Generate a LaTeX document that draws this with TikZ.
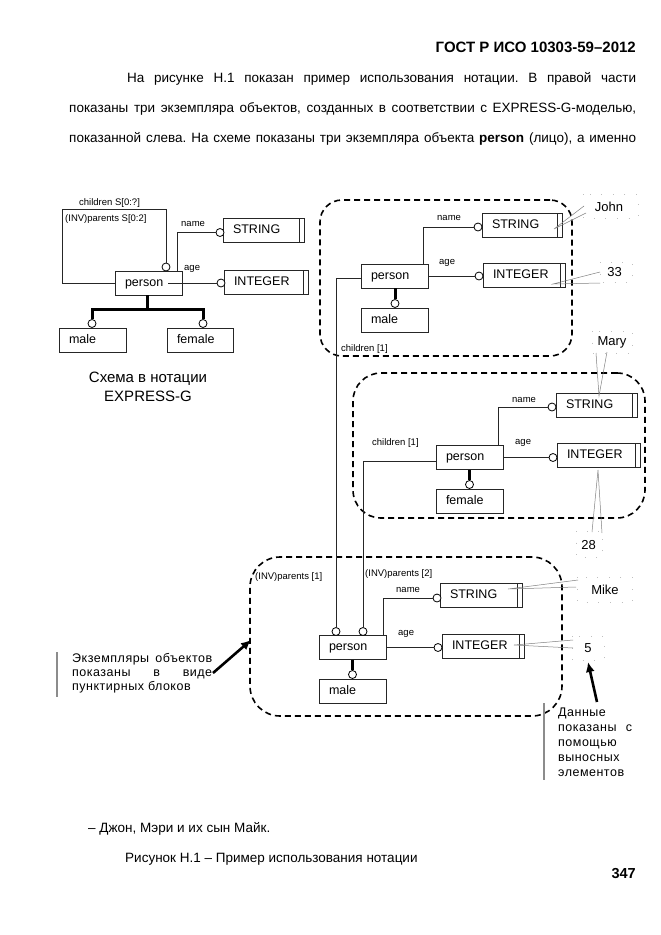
\documentclass[tikz,border=0pt]{standalone}
\usepackage{fontspec}
\setmainfont{Liberation Sans}
\newfontfamily\spfont[LetterSpace=4]{Liberation Sans}
\usetikzlibrary{arrows.meta}
\frenchspacing
\newcommand\bxf{\fontsize{12.5}{14}\selectfont}
\newcommand\lbf{\fontsize{9.5}{11}\selectfont}
\newcommand\vlf{\fontsize{13}{15}\selectfont}
\newcommand\bdf{\fontsize{13.5}{16}\selectfont}
\newcommand\hdf{\fontsize{15}{18}\selectfont\bfseries}
\newcommand\cpf{\fontsize{15}{19}\selectfont}
\newcommand\clf{\spfont\fontsize{12.5}{14}\selectfont}
\newcommand\crf{\spfont\fontsize{12.5}{15}\selectfont}
\begin{document}
\begin{tikzpicture}[x=1pt,y=-1pt,
 ebox/.style={draw=black!85, line width=0.8pt, fill=white, minimum height=24pt, inner xsep=10pt, inner ysep=0pt, text height=9pt, text depth=2.6pt, align=left, font=\bxf},
 dbl/.style={path picture={\draw[black!85, line width=0.8pt] ([xshift=-4.5pt]path picture bounding box.north east) -- ([xshift=-4.5pt]path picture bounding box.south east);}},
 circ/.style={circle, draw=black, fill=white, line width=0.8pt, minimum size=8pt, inner sep=0pt},
 lnk/.style={draw=black!85, line width=0.8pt},
 subln/.style={draw=black, line width=3pt},
 lbl/.style={font=\lbf, inner sep=0pt, anchor=west},
 inst/.style={draw=black, line width=1.6pt, dash pattern=on 6pt off 4pt, inner sep=0pt},
 lead/.style={draw=black!50, line width=0.5pt},
 dotbox/.style={draw=black!25, line width=0.6pt, dash pattern=on 0.6pt off 11pt},
 val/.style={font=\vlf, inner sep=0pt},
 bigarrow/.style={draw=black, line width=2.6pt, -{Latex[length=10pt,width=9pt]}},
 gbar/.style={draw=black!45, line width=2pt},
 ptxt/.style={inner sep=0pt, anchor=base west, font=\bdf}
]
\fill[white] (0,0) rectangle (661,935);
\useasboundingbox (0,0) rectangle (661,935);

% page text
\node[inner sep=0pt, anchor=base east, font=\hdf] (hdr) at (636,52) {ГОСТ Р ИСО 10303-59–2012};
\node[ptxt] (t1) at (127,82) {\makebox[509pt][s]{На рисунке Н.1 показан пример использования нотации. В правой части}};
\node[ptxt] (t2) at (69,112) {\makebox[567pt][s]{показаны три экземпляра объектов, созданных в соответствии с EXPRESS-G-моделью,}};
\node[ptxt] (t3) at (69,142) {\makebox[567pt][s]{показанной слева. На схеме показаны три экземпляра объекта \textbf{person} (лицо), а именно}};
\node[ptxt] (b1) at (88,832) {– Джон, Мэри и их сын Майк.};
\node[ptxt] (b2) at (125,862) {Рисунок Н.1 – Пример использования нотации};
\node[inner sep=0pt, anchor=base east, font=\fontsize{14.5}{17}\selectfont\bfseries] (pg) at (636,878) {347};

% instance frames
\node[inst, rounded corners=22pt, minimum width=252pt, minimum height=156pt] (john) at (446,278) {};
\node[inst, rounded corners=28pt, minimum width=292pt, minimum height=145pt] (mary) at (499,445.5) {};
\node[inst, rounded corners=30pt, minimum width=312pt, minimum height=159pt] (mike) at (406,636.5) {};

% left schema
\node[ebox, text width=47pt] (P0) at (148.5,283) {person};
\node[ebox, dbl, text width=61pt] (S0) at (263.5,230) {STRING};
\node[ebox, dbl, text width=64pt] (I0) at (266,282) {INTEGER};
\node[ebox, text width=47pt] (M0) at (92.5,340.5) {male};
\node[ebox, text width=46pt] (F0) at (200,340.5) {female};
\node[circ] (cS0) at (220,232.5) {};
\node[circ] (cI0) at (221,283) {};
\node[circ] (cP0) at (166,267) {};
\node[circ] (cM0) at (92,323.5) {};
\node[circ] (cF0) at (203,323.5) {};
\coordinate (k0) at (62,209);
\coordinate (j0) at (147,309);
\draw[lnk] (P0.north east) ++(-5,0) |- (cS0);
\draw[lnk] ([xshift=-14pt]P0.east) -- (cI0);
\draw[lnk] (cP0) |- (k0) |- (P0.west);
\draw[subln] (P0.south -| j0) -- (j0);
\draw[subln] (cM0) |- (j0) -| (cF0);
\node[lbl] (l01) at (79,203) {children S[0:?]};
\node[lbl] (l02) at (65,219) {(INV)parents S[0:2]};
\node[lbl] (l03) at (181,224) {name};
\node[lbl] (l04) at (184,269) {age};
\node[font=\cpf, align=center, inner sep=0pt] (cap) at (148,386.5) {Схема в нотации\\EXPRESS-G};

% John
\node[ebox, text width=47pt] (PJ) at (394.5,276) {person};
\node[ebox, dbl, text width=60pt] (JS) at (522,225) {STRING};
\node[ebox, dbl, text width=62pt] (JI) at (524,275) {INTEGER};
\node[ebox, text width=47pt] (JM) at (394.5,320.5) {male};
\node[circ] (cJS) at (478,227) {};
\node[circ] (cJI) at (479,276) {};
\node[circ] (cJM) at (395,303.5) {};
\draw[lnk] (PJ.north east) ++(-5,0) |- (cJS);
\draw[lnk] (PJ.east) -- (cJI);
\draw[subln] (PJ.south -| cJM) -- (cJM);
\node[lbl] (l11) at (437,218) {name};
\node[lbl] (l12) at (439,263) {age};
\node[lbl] (l13) at (341,349) {children [1]};

% Mary
\node[ebox, text width=47pt] (PM) at (469.5,457.5) {person};
\node[ebox, dbl, text width=61pt] (MS) at (596.5,405) {STRING};
\node[ebox, dbl, text width=63pt] (MI) at (598.5,455.5) {INTEGER};
\node[ebox, text width=47pt] (MF) at (469.5,501) {female};
\node[circ] (cMS) at (552,407) {};
\node[circ] (cMI) at (553,457.5) {};
\node[circ] (cMF) at (469.5,484.5) {};
\draw[lnk] (PM.north east) ++(-5,0) |- (cMS);
\draw[lnk] (PM.east) -- (cMI);
\draw[subln] (PM.south -| cMF) -- (cMF);
\node[lbl] (l21) at (512,400) {name};
\node[lbl] (l22) at (515,443) {age};
\node[lbl] (l23) at (372,443) {children [1]};

% Mike
\node[ebox, text width=47pt] (KP) at (352.5,647.5) {person};
\node[ebox, dbl, text width=62pt] (KS) at (481,595) {STRING};
\node[ebox, dbl, text width=62pt] (KI) at (483,646) {INTEGER};
\node[ebox, text width=47pt] (KM) at (352.5,691) {male};
\node[circ] (cKa) at (336,631.5) {};
\node[circ] (cKb) at (363,631.5) {};
\node[circ] (cKS) at (437,598) {};
\node[circ] (cKI) at (438,647.5) {};
\node[circ] (cKM) at (352.5,674.5) {};
\draw[lnk] (KP.north east) ++(-3,0) |- (cKS);
\draw[lnk] (KP.east) -- (cKI);
\draw[subln] (KP.south -| cKM) -- (cKM);
\node[lbl] (l31) at (255,577) {(INV)parents [1]};
\node[lbl] (l32) at (365,574) {(INV)parents [2]};
\node[lbl] (l33) at (396,590) {name};
\node[lbl] (l34) at (398,634) {age};

% relationships between instances
\draw[lnk] ([yshift=-2pt]PJ.west) -| (cKa);
\draw[lnk] ([yshift=-3.5pt]PM.west) -| (cKb);

% values with callouts
\node[val] (vJohn) at (609,207) {John};
\node[val] (v33) at (614.5,272) {33};
\node[val] (vMary) at (612,342) {Mary};
\node[val] (v28) at (588.5,545) {28};
\node[val] (vMike) at (605,590) {Mike};
\node[val] (v5) at (588,648) {5};
\draw[dotbox] (583,194) rectangle (638,218);
\draw[dotbox] (600,262) rectangle (632,282);
\draw[dotbox] (592,331) rectangle (632,353);
\draw[dotbox] (576,531) rectangle (602,557);
\draw[dotbox] (577,577) rectangle (632,602);
\draw[dotbox] (572,636) rectangle (604,660);
\draw[lead] (584,206) -- (554,229) -- (586,213);
\draw[lead] (600,272) -- (553,284) -- (600,283);
\draw[lead] (596,353) -- (599,396) -- (607,352);
\draw[lead] (592,532) -- (598,470) -- (602,533);
\draw[lead] (578,580) -- (508,589) -- (576,587);
\draw[lead] (573,640) -- (514,645) -- (573,648);

% annotations
\draw[gbar] (57,652) -- (57,697);
\node[inner sep=0pt, anchor=north west, align=left, font=\clf] (noteL) at (72,653.5)
  {\makebox[140pt][s]{Экземпляры объектов}\\\makebox[140pt][s]{показаны в виде}\\пунктирных блоков};
\coordinate (la) at (213,673);
\coordinate (lb) at (251,640);
\draw[bigarrow] (la) -- (lb);

\draw[gbar, line width=1.5pt] (544,703) -- (544,780);
\node[inner sep=0pt, anchor=north west, align=left, font=\crf] (noteR) at (558,707.5)
  {Данные\\\makebox[74pt][s]{показаны с}\\помощью\\выносных\\элементов};
\coordinate (ra) at (597,702);
\coordinate (rb) at (588,662);
\draw[bigarrow] (ra) -- (rb);
\end{tikzpicture}
\end{document}
